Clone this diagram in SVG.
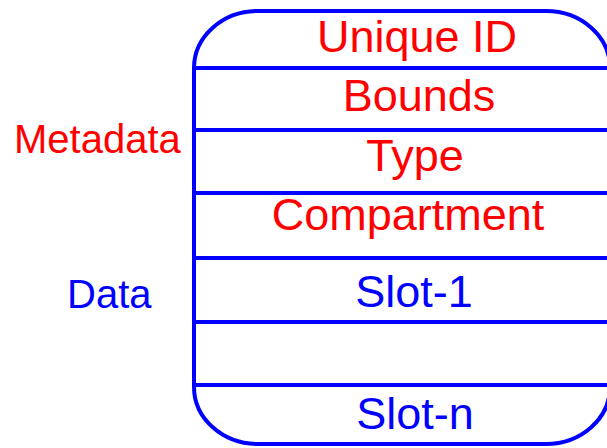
<svg xmlns="http://www.w3.org/2000/svg" width="607" height="448" viewBox="0 0 607 448">
<style>
.box{fill:none;stroke:#0000ff;stroke-width:4}
.sep{stroke:#0000ff;stroke-width:4}
.t{font-family:"Liberation Sans",Arial,sans-serif;font-size:45px;text-anchor:middle}
.l{font-family:"Liberation Sans",Arial,sans-serif;font-size:40px}
.red{fill:#ff0000}
.blue{fill:#0000ff}
</style>
<rect width="607" height="448" fill="#ffffff"/>
<g id="record">
<rect class="box" x="194" y="11" width="416" height="433" rx="64" ry="57"/>
</g>
<g id="separators">
<line class="sep" x1="194" y1="68" x2="610" y2="68"/>
<line class="sep" x1="194" y1="130" x2="610" y2="130"/>
<line class="sep" x1="194" y1="193" x2="610" y2="193"/>
<line class="sep" x1="194" y1="258" x2="610" y2="258"/>
<line class="sep" x1="194" y1="322" x2="610" y2="322"/>
<line class="sep" x1="194" y1="385" x2="610" y2="385"/>
</g>
<g id="field-unique-id"><text class="t red" x="417" y="52">Unique ID</text></g>
<g id="field-bounds"><text class="t red" x="419" y="111">Bounds</text></g>
<g id="field-type"><text class="t red" x="415" y="171">Type</text></g>
<g id="field-compartment"><text class="t red" x="408" y="230">Compartment</text></g>
<g id="field-slot-1"><text class="t blue" x="414" y="307">Slot-1</text></g>
<g id="field-slot-n"><text class="t blue" x="415" y="429">Slot-n</text></g>
<g id="label-metadata"><text class="l red" x="14" y="153">Metadata</text></g>
<g id="label-data"><text class="l blue" x="67" y="308">Data</text></g>
</svg>
